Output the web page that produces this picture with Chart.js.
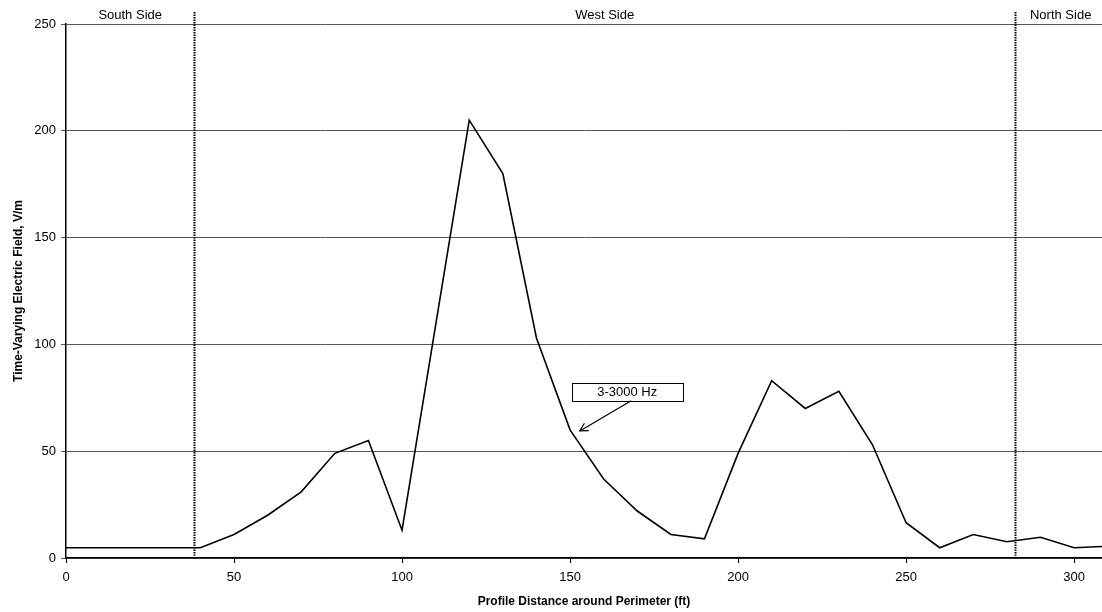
<!DOCTYPE html>
<html lang="en">
<head>
    <meta charset="UTF-8">
    <title>Time-Varying Electric Field Profile</title>
    <script src="https://cdn.jsdelivr.net/npm/chart.js"></script>
    <style>
        html, body { margin: 0; padding: 0; background: #fff; }
        .chart-container { position: relative; width: 1102px; height: 612px; }
    </style>
</head>
<body>
    <div class="chart-container">
        <canvas id="fieldChart"></canvas>
    </div>

    <script>
        // Profile data
        const distances = [0, 10, 20, 30, 40, 50, 60, 70, 80, 90, 100, 110, 120, 130, 140, 150, 160, 170, 180, 190, 200, 210, 220, 230, 240, 250, 260, 270, 280, 290, 300, 310];
        const fieldValues = [4.8, 4.8, 4.8, 4.8, 4.8, 11, 20, 31, 49, 55, 13, 109, 205, 180, 103, 60, 37, 22, 11, 9, 49, 83, 70, 78, 53, 16.5, 4.8, 11, 7.6, 9.7, 4.8, 5.5];
        const yTicks = [0, 50, 100, 150, 200, 250];
        const xTicks = [0, 50, 100, 150, 200, 250, 300];

        // Side boundaries and their labels
        const sideBoundaries = [38.2, 282.3];
        const sideLabels = ['South Side', 'West Side', 'North Side'];
        const sideLabelX = [19.1, 160.3, 296];

        // Frequency band callout
        const calloutText = '3-3000 Hz';
        const calloutAnchor = [167, 77.8];
        const calloutTip = [152.9, 59.5];

        const points = distances.map((d, i) => ({ x: d, y: fieldValues[i] }));

        const overlayPlugin = {
            id: 'overlay',
            afterDatasetsDraw(chart) {
                const { ctx, scales: { x, y } } = chart;
                ctx.save();

                // dotted side boundaries
                ctx.strokeStyle = '#000';
                ctx.lineWidth = 2;
                ctx.setLineDash([1.5, 1]);
                sideBoundaries.forEach(b => {
                    const px = Math.round(x.getPixelForValue(b)) + 0.5;
                    ctx.beginPath();
                    ctx.moveTo(px, y.getPixelForValue(255.6));
                    ctx.lineTo(px, y.getPixelForValue(1));
                    ctx.stroke();
                });
                ctx.setLineDash([]);

                // side labels
                ctx.fillStyle = '#000';
                ctx.font = '13px "Liberation Sans", Arial, sans-serif';
                ctx.textAlign = 'center';
                ctx.textBaseline = 'middle';
                sideLabels.forEach((t, i) => {
                    ctx.fillText(t, x.getPixelForValue(sideLabelX[i]), y.getPixelForValue(254));
                });

                // callout box with arrow
                const cx = x.getPixelForValue(calloutAnchor[0]);
                const cy = y.getPixelForValue(calloutAnchor[1]);
                const bw = 111, bh = 18;
                ctx.fillStyle = '#fff';
                ctx.fillRect(cx - bw / 2, cy - bh / 2, bw, bh);
                ctx.strokeStyle = '#000';
                ctx.lineWidth = 1;
                ctx.strokeRect(Math.round(cx - bw / 2) + 0.5, Math.round(cy - bh / 2) + 0.5, bw, bh);
                ctx.fillStyle = '#000';
                ctx.fillText(calloutText, cx, cy + 1);

                const sx = cx + 4, sy = cy + bh / 2;
                const tx = x.getPixelForValue(calloutTip[0]);
                const ty = y.getPixelForValue(calloutTip[1]);
                ctx.lineWidth = 1.2;
                ctx.beginPath();
                ctx.moveTo(sx, sy);
                ctx.lineTo(tx, ty);
                ctx.stroke();
                const ang = Math.atan2(ty - sy, tx - sx);
                ctx.beginPath();
                ctx.moveTo(tx - 9 * Math.cos(ang - 0.5), ty - 9 * Math.sin(ang - 0.5));
                ctx.lineTo(tx, ty);
                ctx.lineTo(tx - 9 * Math.cos(ang + 0.5), ty - 9 * Math.sin(ang + 0.5));
                ctx.stroke();

                ctx.restore();
            }
        };

        const tickFont = { family: '"Liberation Sans", Arial, sans-serif', size: 13 };
        const titleFont = { family: '"Liberation Sans", Arial, sans-serif', size: 12, weight: 'bold' };

        new Chart(document.getElementById('fieldChart'), {
            type: 'scatter',
            data: {
                datasets: [{
                    data: points,
                    showLine: true,
                    borderColor: '#000',
                    borderWidth: 1.6,
                    pointRadius: 0,
                    tension: 0
                }]
            },
            options: {
                responsive: true,
                maintainAspectRatio: false,
                animation: false,
                layout: { padding: { top: 24, right: 0, left: 0, bottom: 0 } },
                plugins: {
                    legend: { display: false },
                    tooltip: { enabled: false }
                },
                scales: {
                    x: {
                        type: 'linear',
                        min: 0,
                        max: 308.3,
                        afterBuildTicks: s => { s.ticks = xTicks.map(v => ({ value: v })); },
                        afterFit: s => { s.height = 54; },
                        ticks: { font: tickFont, color: '#000', padding: 7, maxRotation: 0 },
                        grid: { drawOnChartArea: false, tickLength: 5, color: '#000' },
                        border: { color: '#000', width: 1.5 },
                        title: {
                            display: true,
                            text: 'Profile Distance around Perimeter (ft)',
                            font: titleFont,
                            color: '#000',
                            padding: { top: 2, bottom: 3 }
                        }
                    },
                    y: {
                        min: 0,
                        max: 250,
                        afterBuildTicks: s => { s.ticks = yTicks.map(v => ({ value: v })); },
                        afterFit: s => { s.width = 66; },
                        ticks: { font: tickFont, color: '#000', padding: 5 },
                        grid: { color: '#555', lineWidth: 1, tickLength: 5 },
                        border: { color: '#000', width: 1.5 },
                        title: {
                            display: true,
                            text: 'Time-Varying Electric Field, V/m',
                            font: titleFont,
                            color: '#000',
                            padding: { top: 11, bottom: 0 }
                        }
                    }
                }
            },
            plugins: [overlayPlugin]
        });
    </script>
</body>
</html>
